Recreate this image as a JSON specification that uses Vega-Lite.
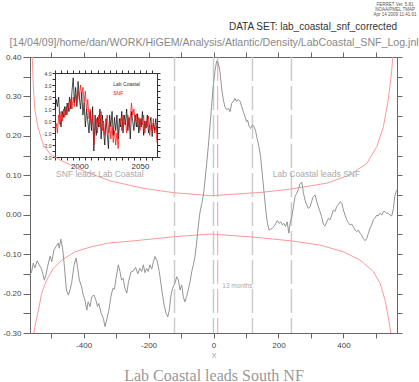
{
  "$schema": "https://vega.github.io/schema/vega-lite/v6.json",
  "autosize": "none",
  "width": 367,
  "height": 276,
  "padding": {"left": 30, "top": 57, "right": 22, "bottom": 49},
  "background": "white",
  "config": {
    "view": {"stroke": null},
    "axis": {"grid": false, "domainColor": "#666", "tickColor": "#666", "labelColor": "#444", "labelFont": "Liberation Sans", "labelFontSize": 8, "titleFont": "Liberation Sans", "titleFontWeight": "normal", "titleColor": "#888", "tickSize": 5, "domainWidth": 1, "tickWidth": 1, "labelOverlap": false, "labelFlush": false}
  },
  "datasets": {
    "corr": [
      {"lag": -565, "r": -0.155}, {"lag": -560, "r": -0.144}, {"lag": -555, "r": -0.123}, {"lag": -550, "r": -0.135},
      {"lag": -543, "r": -0.117}, {"lag": -537, "r": -0.127}, {"lag": -531, "r": -0.135}, {"lag": -527, "r": -0.144},
      {"lag": -521, "r": -0.166}, {"lag": -516, "r": -0.153}, {"lag": -511, "r": -0.132}, {"lag": -503, "r": -0.105},
      {"lag": -498, "r": -0.119}, {"lag": -491, "r": -0.089}, {"lag": -485, "r": -0.081}, {"lag": -478, "r": -0.072},
      {"lag": -475, "r": -0.085}, {"lag": -470, "r": -0.062}, {"lag": -464, "r": -0.089}, {"lag": -459, "r": -0.132},
      {"lag": -453, "r": -0.191}, {"lag": -447, "r": -0.204}, {"lag": -442, "r": -0.191}, {"lag": -437, "r": -0.174},
      {"lag": -429, "r": -0.127}, {"lag": -423, "r": -0.110}, {"lag": -418, "r": -0.136}, {"lag": -413, "r": -0.166},
      {"lag": -406, "r": -0.183}, {"lag": -401, "r": -0.204}, {"lag": -396, "r": -0.216}, {"lag": -390, "r": -0.242},
      {"lag": -386, "r": -0.221}, {"lag": -380, "r": -0.233}, {"lag": -375, "r": -0.208}, {"lag": -368, "r": -0.204},
      {"lag": -363, "r": -0.214}, {"lag": -357, "r": -0.233}, {"lag": -353, "r": -0.225}, {"lag": -346, "r": -0.250},
      {"lag": -339, "r": -0.263}, {"lag": -334, "r": -0.284}, {"lag": -329, "r": -0.267}, {"lag": -322, "r": -0.242},
      {"lag": -316, "r": -0.208}, {"lag": -310, "r": -0.187}, {"lag": -305, "r": -0.189}, {"lag": -300, "r": -0.161},
      {"lag": -293, "r": -0.127}, {"lag": -288, "r": -0.144}, {"lag": -283, "r": -0.166}, {"lag": -278, "r": -0.161},
      {"lag": -273, "r": -0.186}, {"lag": -267, "r": -0.199}, {"lag": -262, "r": -0.171}, {"lag": -254, "r": -0.145},
      {"lag": -247, "r": -0.143}, {"lag": -240, "r": -0.133}, {"lag": -233, "r": -0.150}, {"lag": -227, "r": -0.136},
      {"lag": -221, "r": -0.144}, {"lag": -216, "r": -0.127}, {"lag": -211, "r": -0.147}, {"lag": -206, "r": -0.136},
      {"lag": -201, "r": -0.144}, {"lag": -196, "r": -0.127}, {"lag": -190, "r": -0.138}, {"lag": -185, "r": -0.119},
      {"lag": -180, "r": -0.106}, {"lag": -173, "r": -0.119}, {"lag": -167, "r": -0.144}, {"lag": -162, "r": -0.174},
      {"lag": -156, "r": -0.208}, {"lag": -152, "r": -0.229}, {"lag": -146, "r": -0.250}, {"lag": -141, "r": -0.259},
      {"lag": -136, "r": -0.242}, {"lag": -131, "r": -0.204}, {"lag": -126, "r": -0.187}, {"lag": -119, "r": -0.174},
      {"lag": -113, "r": -0.157}, {"lag": -108, "r": -0.166}, {"lag": -103, "r": -0.191}, {"lag": -98, "r": -0.178},
      {"lag": -93, "r": -0.208}, {"lag": -88, "r": -0.221}, {"lag": -83, "r": -0.208}, {"lag": -78, "r": -0.191},
      {"lag": -72, "r": -0.170}, {"lag": -67, "r": -0.144}, {"lag": -62, "r": -0.127}, {"lag": -57, "r": -0.106},
      {"lag": -52, "r": -0.072}, {"lag": -47, "r": -0.030}, {"lag": -42, "r": 0.004}, {"lag": -36, "r": 0.029},
      {"lag": -31, "r": 0.050}, {"lag": -26, "r": 0.088}, {"lag": -21, "r": 0.130}, {"lag": -16, "r": 0.173},
      {"lag": -11, "r": 0.223}, {"lag": -6, "r": 0.274}, {"lag": -1, "r": 0.325}, {"lag": 5, "r": 0.367},
      {"lag": 10, "r": 0.390}, {"lag": 14, "r": 0.387}, {"lag": 20, "r": 0.362}, {"lag": 25, "r": 0.321},
      {"lag": 30, "r": 0.293}, {"lag": 35, "r": 0.274}, {"lag": 41, "r": 0.266}, {"lag": 46, "r": 0.270},
      {"lag": 51, "r": 0.261}, {"lag": 56, "r": 0.283}, {"lag": 61, "r": 0.287}, {"lag": 66, "r": 0.295},
      {"lag": 71, "r": 0.287}, {"lag": 76, "r": 0.293}, {"lag": 82, "r": 0.287}, {"lag": 87, "r": 0.274},
      {"lag": 92, "r": 0.261}, {"lag": 97, "r": 0.249}, {"lag": 102, "r": 0.236}, {"lag": 105, "r": 0.240},
      {"lag": 110, "r": 0.223}, {"lag": 115, "r": 0.219}, {"lag": 120, "r": 0.228}, {"lag": 125, "r": 0.223},
      {"lag": 130, "r": 0.211}, {"lag": 135, "r": 0.190}, {"lag": 140, "r": 0.173}, {"lag": 145, "r": 0.147},
      {"lag": 150, "r": 0.105}, {"lag": 156, "r": 0.054}, {"lag": 161, "r": 0.012}, {"lag": 166, "r": -0.022},
      {"lag": 171, "r": -0.039}, {"lag": 176, "r": -0.037}, {"lag": 181, "r": -0.034}, {"lag": 186, "r": -0.030},
      {"lag": 192, "r": -0.022}, {"lag": 196, "r": -0.015}, {"lag": 202, "r": -0.022}, {"lag": 207, "r": -0.018},
      {"lag": 212, "r": -0.026}, {"lag": 217, "r": -0.022}, {"lag": 222, "r": -0.030}, {"lag": 227, "r": -0.018},
      {"lag": 232, "r": -0.047}, {"lag": 236, "r": -0.022}, {"lag": 241, "r": -0.005}, {"lag": 246, "r": 0.020},
      {"lag": 251, "r": 0.046}, {"lag": 256, "r": 0.054}, {"lag": 261, "r": 0.063}, {"lag": 266, "r": 0.078},
      {"lag": 272, "r": 0.083}, {"lag": 277, "r": 0.054}, {"lag": 282, "r": 0.037}, {"lag": 287, "r": 0.025},
      {"lag": 292, "r": 0.016}, {"lag": 297, "r": 0.020}, {"lag": 302, "r": 0.033}, {"lag": 307, "r": 0.046},
      {"lag": 313, "r": 0.050}, {"lag": 318, "r": 0.033}, {"lag": 323, "r": 0.020}, {"lag": 328, "r": 0.008},
      {"lag": 333, "r": -0.005}, {"lag": 338, "r": -0.024}, {"lag": 343, "r": -0.029}, {"lag": 349, "r": -0.018},
      {"lag": 354, "r": -0.009}, {"lag": 359, "r": -0.013}, {"lag": 364, "r": -0.001}, {"lag": 369, "r": 0.012},
      {"lag": 374, "r": 0.008}, {"lag": 379, "r": 0.020}, {"lag": 384, "r": 0.025}, {"lag": 390, "r": 0.033},
      {"lag": 395, "r": 0.029}, {"lag": 400, "r": 0.012}, {"lag": 405, "r": -0.001}, {"lag": 410, "r": -0.013},
      {"lag": 415, "r": -0.020}, {"lag": 420, "r": -0.026}, {"lag": 426, "r": -0.024}, {"lag": 430, "r": -0.030},
      {"lag": 436, "r": -0.039}, {"lag": 441, "r": -0.043}, {"lag": 446, "r": -0.039}, {"lag": 451, "r": -0.047},
      {"lag": 456, "r": -0.051}, {"lag": 461, "r": -0.060}, {"lag": 467, "r": -0.066}, {"lag": 472, "r": -0.060},
      {"lag": 477, "r": -0.047}, {"lag": 482, "r": -0.034}, {"lag": 487, "r": -0.026}, {"lag": 492, "r": -0.013},
      {"lag": 497, "r": -0.009}, {"lag": 503, "r": -0.001}, {"lag": 507, "r": -0.003}, {"lag": 513, "r": 0.004},
      {"lag": 518, "r": -0.001}, {"lag": 523, "r": 0.008}, {"lag": 528, "r": 0.008}, {"lag": 533, "r": 0.004},
      {"lag": 538, "r": 0.004}, {"lag": 543, "r": -0.001}, {"lag": 549, "r": -0.003}, {"lag": 554, "r": 0.016},
      {"lag": 558, "r": 0.046}, {"lag": 562, "r": 0.058}, {"lag": 565, "r": 0.063}
    ],
    "bounds": [
      {"side": "upper", "lag": -558, "r": 0.40}, {"side": "upper", "lag": -555, "r": 0.33}, {"side": "upper", "lag": -550, "r": 0.266},
      {"side": "upper", "lag": -541, "r": 0.223}, {"side": "upper", "lag": -524, "r": 0.177}, {"side": "upper", "lag": -503, "r": 0.154},
      {"side": "upper", "lag": -473, "r": 0.139}, {"side": "upper", "lag": -401, "r": 0.111}, {"side": "upper", "lag": -319, "r": 0.086},
      {"side": "upper", "lag": -217, "r": 0.067}, {"side": "upper", "lag": -124, "r": 0.056}, {"side": "upper", "lag": -32, "r": 0.050},
      {"side": "upper", "lag": -11, "r": 0.048}, {"side": "upper", "lag": 152, "r": 0.057}, {"side": "upper", "lag": 238, "r": 0.065},
      {"side": "upper", "lag": 349, "r": 0.080}, {"side": "upper", "lag": 420, "r": 0.101}, {"side": "upper", "lag": 472, "r": 0.130},
      {"side": "upper", "lag": 503, "r": 0.173}, {"side": "upper", "lag": 523, "r": 0.223}, {"side": "upper", "lag": 538, "r": 0.291},
      {"side": "upper", "lag": 549, "r": 0.367}, {"side": "upper", "lag": 552, "r": 0.40},
      {"side": "lower", "lag": -553, "r": -0.30}, {"side": "lower", "lag": -549, "r": -0.28}, {"side": "lower", "lag": -539, "r": -0.242},
      {"side": "lower", "lag": -529, "r": -0.199}, {"side": "lower", "lag": -514, "r": -0.166}, {"side": "lower", "lag": -493, "r": -0.136},
      {"side": "lower", "lag": -467, "r": -0.115}, {"side": "lower", "lag": -426, "r": -0.094}, {"side": "lower", "lag": -375, "r": -0.081},
      {"side": "lower", "lag": -324, "r": -0.072}, {"side": "lower", "lag": -242, "r": -0.066}, {"side": "lower", "lag": -124, "r": -0.056},
      {"side": "lower", "lag": -11, "r": -0.049}, {"side": "lower", "lag": 112, "r": -0.056}, {"side": "lower", "lag": 236, "r": -0.066},
      {"side": "lower", "lag": 328, "r": -0.077}, {"side": "lower", "lag": 400, "r": -0.094}, {"side": "lower", "lag": 451, "r": -0.115},
      {"side": "lower", "lag": 492, "r": -0.144}, {"side": "lower", "lag": 513, "r": -0.174}, {"side": "lower", "lag": 528, "r": -0.216},
      {"side": "lower", "lag": 538, "r": -0.259}, {"side": "lower", "lag": 546, "r": -0.30}
    ],
    "leads": [{"lag": -120}, {"lag": 0}, {"lag": 120}, {"lag": 240}],
    "ts": [
      {"series": "Lab Coastal", "year": 1980, "value": 1.0}, {"series": "Lab Coastal", "year": 1981, "value": 1.8}, {"series": "Lab Coastal", "year": 1982, "value": 1.2},
      {"series": "Lab Coastal", "year": 1983, "value": 2.0}, {"series": "Lab Coastal", "year": 1984, "value": 0.2}, {"series": "Lab Coastal", "year": 1985, "value": -0.5},
      {"series": "Lab Coastal", "year": 1986, "value": 0.8}, {"series": "Lab Coastal", "year": 1987, "value": 0.3}, {"series": "Lab Coastal", "year": 1988, "value": 1.2},
      {"series": "Lab Coastal", "year": 1989, "value": 0.5}, {"series": "Lab Coastal", "year": 1990, "value": 1.5}, {"series": "Lab Coastal", "year": 1991, "value": 0.8},
      {"series": "Lab Coastal", "year": 1992, "value": 2.0}, {"series": "Lab Coastal", "year": 1993, "value": 1.0}, {"series": "Lab Coastal", "year": 1994, "value": 2.5},
      {"series": "Lab Coastal", "year": 1995, "value": 3.6}, {"series": "Lab Coastal", "year": 1996, "value": 1.5}, {"series": "Lab Coastal", "year": 1997, "value": 2.8},
      {"series": "Lab Coastal", "year": 1998, "value": 1.2}, {"series": "Lab Coastal", "year": 1999, "value": 3.3}, {"series": "Lab Coastal", "year": 2000, "value": 2.0},
      {"series": "Lab Coastal", "year": 2001, "value": 1.0}, {"series": "Lab Coastal", "year": 2002, "value": 2.4}, {"series": "Lab Coastal", "year": 2003, "value": 0.5},
      {"series": "Lab Coastal", "year": 2004, "value": 1.5}, {"series": "Lab Coastal", "year": 2005, "value": -0.5}, {"series": "Lab Coastal", "year": 2006, "value": 1.0},
      {"series": "Lab Coastal", "year": 2007, "value": 0.0}, {"series": "Lab Coastal", "year": 2008, "value": -1.0}, {"series": "Lab Coastal", "year": 2009, "value": 0.8},
      {"series": "Lab Coastal", "year": 2010, "value": -0.8}, {"series": "Lab Coastal", "year": 2011, "value": 1.2}, {"series": "Lab Coastal", "year": 2012, "value": -2.5},
      {"series": "Lab Coastal", "year": 2013, "value": 0.5}, {"series": "Lab Coastal", "year": 2014, "value": -1.2}, {"series": "Lab Coastal", "year": 2015, "value": 0.3},
      {"series": "Lab Coastal", "year": 2016, "value": -0.5}, {"series": "Lab Coastal", "year": 2017, "value": 1.0}, {"series": "Lab Coastal", "year": 2018, "value": -1.5},
      {"series": "Lab Coastal", "year": 2019, "value": 0.5}, {"series": "Lab Coastal", "year": 2020, "value": -0.8}, {"series": "Lab Coastal", "year": 2021, "value": -2.0},
      {"series": "Lab Coastal", "year": 2022, "value": 0.2}, {"series": "Lab Coastal", "year": 2023, "value": -1.0}, {"series": "Lab Coastal", "year": 2024, "value": -2.3},
      {"series": "Lab Coastal", "year": 2025, "value": 0.5}, {"series": "Lab Coastal", "year": 2026, "value": -0.5}, {"series": "Lab Coastal", "year": 2027, "value": 0.8},
      {"series": "Lab Coastal", "year": 2028, "value": -1.2}, {"series": "Lab Coastal", "year": 2029, "value": 0.3}, {"series": "Lab Coastal", "year": 2030, "value": -0.8},
      {"series": "Lab Coastal", "year": 2031, "value": 0.5}, {"series": "Lab Coastal", "year": 2032, "value": -1.5}, {"series": "Lab Coastal", "year": 2033, "value": 0.2},
      {"series": "Lab Coastal", "year": 2034, "value": -0.5}, {"series": "Lab Coastal", "year": 2035, "value": 0.8}, {"series": "Lab Coastal", "year": 2036, "value": -1.0},
      {"series": "Lab Coastal", "year": 2037, "value": 0.5}, {"series": "Lab Coastal", "year": 2038, "value": -0.3}, {"series": "Lab Coastal", "year": 2039, "value": 1.0},
      {"series": "Lab Coastal", "year": 2040, "value": -0.8}, {"series": "Lab Coastal", "year": 2041, "value": 0.3}, {"series": "Lab Coastal", "year": 2042, "value": -1.5},
      {"series": "Lab Coastal", "year": 2043, "value": 0.8}, {"series": "Lab Coastal", "year": 2044, "value": 0.0}, {"series": "Lab Coastal", "year": 2045, "value": -0.8},
      {"series": "Lab Coastal", "year": 2046, "value": 0.5}, {"series": "Lab Coastal", "year": 2047, "value": -0.5}, {"series": "Lab Coastal", "year": 2048, "value": 0.6},
      {"series": "Lab Coastal", "year": 2049, "value": -1.0}, {"series": "Lab Coastal", "year": 2050, "value": 0.2}, {"series": "Lab Coastal", "year": 2051, "value": -0.5},
      {"series": "Lab Coastal", "year": 2052, "value": 0.8}, {"series": "Lab Coastal", "year": 2053, "value": -1.2}, {"series": "Lab Coastal", "year": 2054, "value": 0.0},
      {"series": "Lab Coastal", "year": 2055, "value": -0.6}, {"series": "Lab Coastal", "year": 2056, "value": 0.5}, {"series": "Lab Coastal", "year": 2057, "value": -1.0},
      {"series": "Lab Coastal", "year": 2058, "value": -0.3}, {"series": "Lab Coastal", "year": 2059, "value": 0.3}, {"series": "Lab Coastal", "year": 2060, "value": -1.3},
      {"series": "Lab Coastal", "year": 2061, "value": -0.2}, {"series": "Lab Coastal", "year": 2062, "value": -0.8}, {"series": "Lab Coastal", "year": 2063, "value": 0.2},
      {"series": "Lab Coastal", "year": 2064, "value": -1.0},
      {"series": "SNF", "year": 1980, "value": -0.8}, {"series": "SNF", "year": 1981, "value": -0.2}, {"series": "SNF", "year": 1982, "value": -1.0},
      {"series": "SNF", "year": 1983, "value": 0.5}, {"series": "SNF", "year": 1984, "value": -0.3}, {"series": "SNF", "year": 1985, "value": 0.8},
      {"series": "SNF", "year": 1986, "value": 0.0}, {"series": "SNF", "year": 1987, "value": 1.0}, {"series": "SNF", "year": 1988, "value": 0.3},
      {"series": "SNF", "year": 1989, "value": 1.2}, {"series": "SNF", "year": 1990, "value": 0.5}, {"series": "SNF", "year": 1991, "value": 1.5},
      {"series": "SNF", "year": 1992, "value": 0.8}, {"series": "SNF", "year": 1993, "value": 1.8}, {"series": "SNF", "year": 1994, "value": 1.0},
      {"series": "SNF", "year": 1995, "value": 2.0}, {"series": "SNF", "year": 1996, "value": 1.2}, {"series": "SNF", "year": 1997, "value": 2.2},
      {"series": "SNF", "year": 1998, "value": 1.5}, {"series": "SNF", "year": 1999, "value": 2.5}, {"series": "SNF", "year": 2000, "value": 1.8},
      {"series": "SNF", "year": 2001, "value": 3.0}, {"series": "SNF", "year": 2002, "value": 2.2}, {"series": "SNF", "year": 2003, "value": 2.8},
      {"series": "SNF", "year": 2004, "value": 1.5}, {"series": "SNF", "year": 2005, "value": 2.5}, {"series": "SNF", "year": 2006, "value": 0.8},
      {"series": "SNF", "year": 2007, "value": 1.8}, {"series": "SNF", "year": 2008, "value": 0.2}, {"series": "SNF", "year": 2009, "value": 1.0},
      {"series": "SNF", "year": 2010, "value": -0.5}, {"series": "SNF", "year": 2011, "value": 0.5}, {"series": "SNF", "year": 2012, "value": -2.0},
      {"series": "SNF", "year": 2013, "value": -0.8}, {"series": "SNF", "year": 2014, "value": 0.2}, {"series": "SNF", "year": 2015, "value": -1.0},
      {"series": "SNF", "year": 2016, "value": 0.5}, {"series": "SNF", "year": 2017, "value": -0.5}, {"series": "SNF", "year": 2018, "value": 0.8},
      {"series": "SNF", "year": 2019, "value": -0.8}, {"series": "SNF", "year": 2020, "value": 0.0}, {"series": "SNF", "year": 2021, "value": -1.2},
      {"series": "SNF", "year": 2022, "value": -0.3}, {"series": "SNF", "year": 2023, "value": 0.5}, {"series": "SNF", "year": 2024, "value": -1.0},
      {"series": "SNF", "year": 2025, "value": 0.0}, {"series": "SNF", "year": 2026, "value": -1.5}, {"series": "SNF", "year": 2027, "value": -0.5},
      {"series": "SNF", "year": 2028, "value": -1.8}, {"series": "SNF", "year": 2029, "value": -0.8}, {"series": "SNF", "year": 2030, "value": -2.0},
      {"series": "SNF", "year": 2031, "value": -1.0}, {"series": "SNF", "year": 2032, "value": -2.3}, {"series": "SNF", "year": 2033, "value": -0.5},
      {"series": "SNF", "year": 2034, "value": 0.2}, {"series": "SNF", "year": 2035, "value": -0.8}, {"series": "SNF", "year": 2036, "value": 0.5},
      {"series": "SNF", "year": 2037, "value": -0.3}, {"series": "SNF", "year": 2038, "value": 0.0}, {"series": "SNF", "year": 2039, "value": -1.0},
      {"series": "SNF", "year": 2040, "value": 0.5}, {"series": "SNF", "year": 2041, "value": -0.5}, {"series": "SNF", "year": 2042, "value": 0.3},
      {"series": "SNF", "year": 2043, "value": 1.5}, {"series": "SNF", "year": 2044, "value": 0.5}, {"series": "SNF", "year": 2045, "value": 1.0},
      {"series": "SNF", "year": 2046, "value": 0.0}, {"series": "SNF", "year": 2047, "value": 0.6}, {"series": "SNF", "year": 2048, "value": -0.5},
      {"series": "SNF", "year": 2049, "value": 0.3}, {"series": "SNF", "year": 2050, "value": -0.8}, {"series": "SNF", "year": 2051, "value": 0.2},
      {"series": "SNF", "year": 2052, "value": -0.3}, {"series": "SNF", "year": 2053, "value": 0.5}, {"series": "SNF", "year": 2054, "value": -1.0},
      {"series": "SNF", "year": 2055, "value": 0.0}, {"series": "SNF", "year": 2056, "value": -0.5}, {"series": "SNF", "year": 2057, "value": 0.4},
      {"series": "SNF", "year": 2058, "value": -1.2}, {"series": "SNF", "year": 2059, "value": -0.3}, {"series": "SNF", "year": 2060, "value": -0.8},
      {"series": "SNF", "year": 2061, "value": 0.2}, {"series": "SNF", "year": 2062, "value": -1.0}, {"series": "SNF", "year": 2063, "value": -0.5},
      {"series": "SNF", "year": 2064, "value": -1.8}
    ]
  },
  "layer": [
    {
      "layer": [
        {
          "data": {"name": "leads"},
          "mark": {"type": "rule", "color": "#cccccc", "strokeWidth": 1.5, "strokeDash": [24, 5]},
          "encoding": {
            "x": {"field": "lag", "type": "quantitative", "scale": {"domain": [-565, 565], "nice": false, "zero": false},
                  "axis": {"orient": "bottom", "domain": false, "ticks": false, "labels": false, "title": "Lab Coastal leads South NF", "titleFont": "Liberation Serif", "titleFontSize": 16, "titleColor": "#999", "titlePadding": 34}}
          }
        },
        {
          "data": {"values": [{}]},
          "mark": {"type": "rule", "color": "#ff9999", "strokeWidth": 1, "strokeDash": [24, 5]},
          "encoding": {"x": {"datum": 13, "type": "quantitative", "axis": null}}
        },
        {
          "data": {"name": "bounds"},
          "mark": {"type": "line", "color": "#ff9999", "strokeWidth": 1, "clip": true},
          "encoding": {
            "x": {"field": "lag", "type": "quantitative",
                  "axis": {"orient": "top", "values": [-500, -400, -300, -200, -100, 0, 100, 200, 300, 400, 500], "labels": false, "title": "[14/04/09]/home/dan/WORK/HiGEM/Analysis/Atlantic/Density/LabCoastal_SNF_Log.jnl", "titleFontSize": 10.6, "titleColor": "#888", "titlePadding": 4, "tickSize": 5}},
            "y": {"field": "r", "type": "quantitative",
                  "axis": {"orient": "right", "values": [-0.3, -0.25, -0.2, -0.15, -0.1, -0.05, 0, 0.05, 0.1, 0.15, 0.2, 0.25, 0.3, 0.35, 0.4], "labels": false, "title": null, "tickSize": 5}},
            "detail": {"field": "side", "type": "nominal"}
          }
        },
        {
          "data": {"name": "corr"},
          "mark": {"type": "line", "color": "#959595", "strokeWidth": 1},
          "encoding": {
            "x": {"field": "lag", "type": "quantitative", "scale": {"domain": [-565, 565], "nice": false, "zero": false},
                  "axis": {"orient": "bottom", "values": [-500, -400, -300, -200, -100, 0, 100, 200, 300, 400, 500], "labelExpr": "datum.value % 200 == 0 ? replace(datum.label, '−', '-') : ''", "title": "X", "titleFontSize": 7, "titleColor": "#999", "titlePadding": 2, "labelPadding": 3, "tickSize": 5}},
            "y": {"field": "r", "type": "quantitative", "scale": {"domain": [-0.3, 0.4], "nice": false, "zero": false},
                  "axis": {"orient": "left", "values": [-0.3, -0.25, -0.2, -0.15, -0.1, -0.05, 0, 0.05, 0.1, 0.15, 0.2, 0.25, 0.3, 0.35, 0.4], "labelExpr": "abs(round(datum.value * 100)) % 10 == 0 ? replace(format(datum.value, '.2f'), '−', '-') : ''", "title": null, "tickSize": 7, "labelPadding": 2}}
          }
        },
        {
          "data": {"values": [{}]},
          "mark": {"type": "text", "text": "SNF leads Lab Coastal", "font": "Liberation Sans", "fontSize": 8.5, "color": "#aaa", "align": "center", "baseline": "middle"},
          "encoding": {"x": {"datum": -350, "type": "quantitative", "axis": null}, "y": {"datum": 0.103, "type": "quantitative", "axis": null}}
        },
        {
          "data": {"values": [{}]},
          "mark": {"type": "text", "text": "Lab Coastal leads SNF", "font": "Liberation Sans", "fontSize": 8.5, "color": "#aaa", "align": "center", "baseline": "middle"},
          "encoding": {"x": {"datum": 317, "type": "quantitative", "axis": null}, "y": {"datum": 0.103, "type": "quantitative", "axis": null}}
        },
        {
          "data": {"values": [{}]},
          "mark": {"type": "text", "text": "13 months", "font": "Liberation Sans", "fontSize": 6.5, "color": "#aaa", "align": "left", "baseline": "middle"},
          "encoding": {"x": {"datum": 27, "type": "quantitative", "axis": null}, "y": {"datum": -0.181, "type": "quantitative", "axis": null}}
        },
        {
          "data": {"values": [{}]},
          "mark": {"type": "text", "text": "DATA SET: lab_coastal_snf_corrected", "font": "Liberation Sans", "fontSize": 10, "color": "#333", "align": "right", "baseline": "middle"},
          "encoding": {"x": {"datum": 565, "type": "quantitative", "axis": null}, "y": {"datum": 0.477, "type": "quantitative", "axis": null}}
        },
        {
          "data": {"values": [{}]},
          "mark": {"type": "text", "text": ["FERRET Ver. 5.81", "NOAA/PMEL TMAP", "Apr 14 2009 11:41:01"], "font": "Liberation Sans", "fontSize": 4.5, "lineHeight": 5, "color": "#555", "align": "center", "baseline": "top"},
          "encoding": {"x": {"datum": 559, "type": "quantitative", "axis": null}, "y": {"datum": 0.539, "type": "quantitative", "axis": null}}
        }
      ],
      "resolve": {"axis": {"x": "independent", "y": "independent"}}
    },
    {
      "layer": [
        {
          "data": {"name": "ts"},
          "mark": {"type": "line", "strokeWidth": 0.7},
          "encoding": {
            "x": {"field": "year", "type": "quantitative", "scale": {"domain": [1980, 2064], "range": [25, 127], "nice": false, "zero": false},
                  "axis": {"orient": "bottom", "offset": -176, "values": [1980, 1985, 1990, 1995, 2000, 2005, 2010, 2015, 2020, 2025, 2030, 2035, 2040, 2045, 2050, 2055, 2060], "format": "d", "labelExpr": "datum.value == 2000 || datum.value == 2050 ? datum.label : ''", "tickSize": 3, "labelFontSize": 8, "labelPadding": 2, "title": null, "domainColor": "#333", "tickColor": "#333", "labelColor": "#333"}},
            "y": {"field": "value", "type": "quantitative", "scale": {"domain": [-3, 4], "range": [100, 16], "nice": false, "zero": false},
                  "axis": {"orient": "left", "offset": -25, "values": [-3, -2.5, -2, -1.5, -1, -0.5, 0, 0.5, 1, 1.5, 2, 2.5, 3, 3.5, 4], "labelExpr": "datum.value % 1 == 0 ? replace(format(datum.value, '.1f'), '−', '-') : ''", "tickSize": 3, "labelFontSize": 5, "labelPadding": 1, "title": null, "domainColor": "#333", "tickColor": "#333", "labelColor": "#333"}},
            "color": {"field": "series", "type": "nominal", "scale": {"domain": ["Lab Coastal", "SNF"], "range": ["#000000", "#ff0000"]}, "legend": null}
          }
        },
        {
          "data": {"values": [{}]},
          "mark": {"type": "text", "text": "Lab Coastal", "font": "Liberation Sans", "fontSize": 5, "color": "#333", "align": "left", "baseline": "middle"},
          "encoding": {
            "x": {"datum": 2028, "type": "quantitative",
                  "axis": {"orient": "top", "offset": -16, "values": [1980, 1985, 1990, 1995, 2000, 2005, 2010, 2015, 2020, 2025, 2030, 2035, 2040, 2045, 2050, 2055, 2060], "labels": false, "tickSize": 3, "title": null, "domainColor": "#333", "tickColor": "#333"}},
            "y": {"datum": 3.07, "type": "quantitative",
                  "axis": {"orient": "right", "offset": -240, "values": [-3, -2.5, -2, -1.5, -1, -0.5, 0, 0.5, 1, 1.5, 2, 2.5, 3, 3.5, 4], "labels": false, "tickSize": 3, "title": null, "domainColor": "#333", "tickColor": "#333"}}
          }
        },
        {
          "data": {"values": [{}]},
          "mark": {"type": "text", "text": "SNF", "font": "Liberation Sans", "fontSize": 5, "color": "#ff0000", "align": "left", "baseline": "middle"},
          "encoding": {"x": {"datum": 2028, "type": "quantitative", "axis": null}, "y": {"datum": 2.36, "type": "quantitative", "axis": null}}
        }
      ],
      "resolve": {"axis": {"x": "independent", "y": "independent"}}
    }
  ],
  "resolve": {"scale": {"x": "independent", "y": "independent"}, "axis": {"x": "independent", "y": "independent"}}
}
